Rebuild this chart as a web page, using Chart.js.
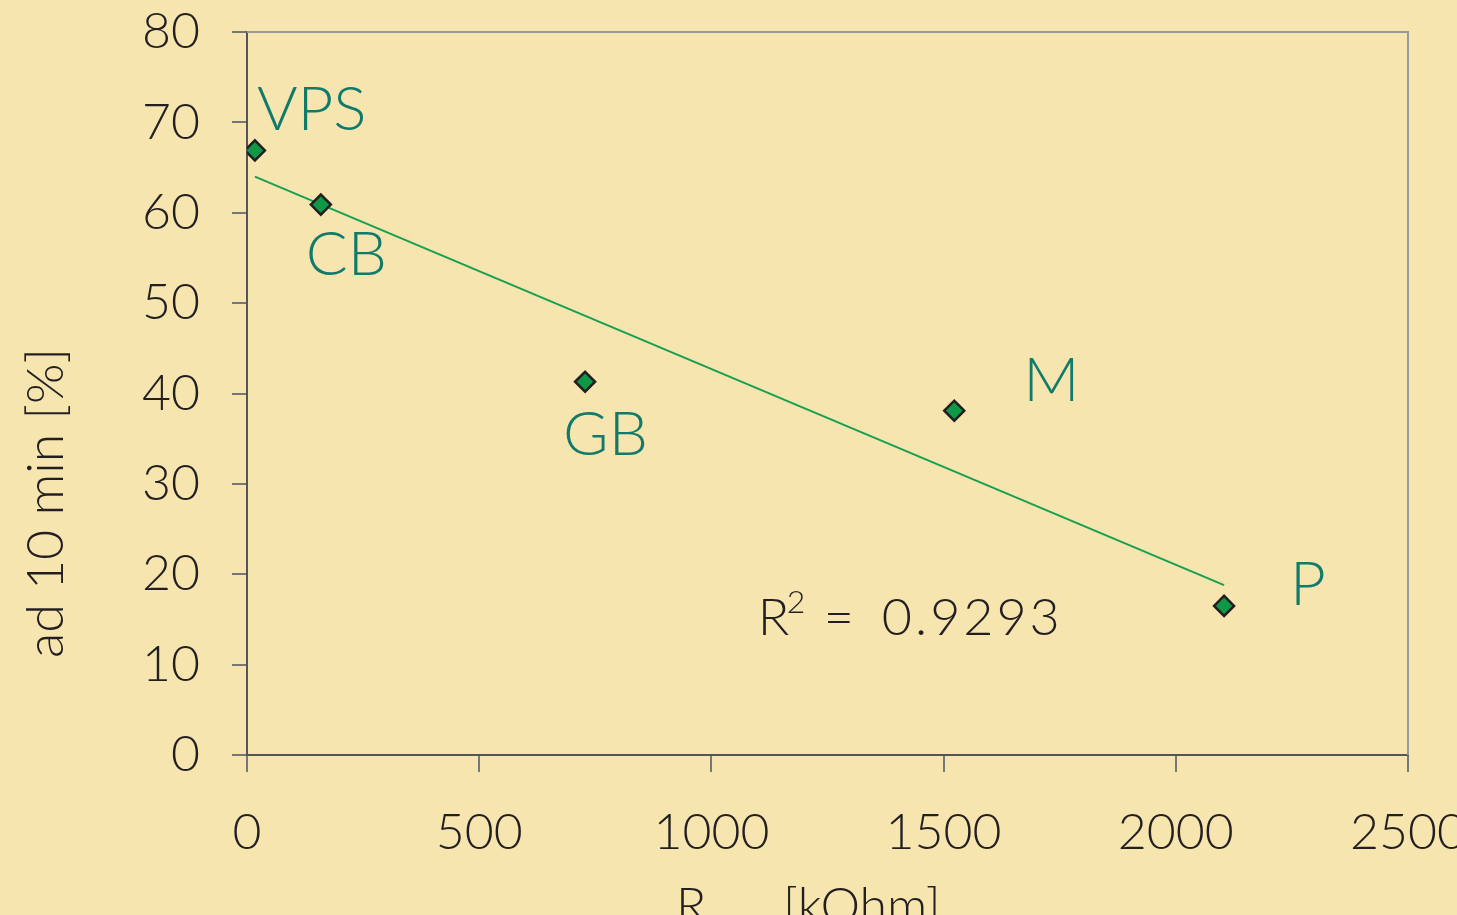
<!DOCTYPE html>
<html>
<head>
<meta charset="utf-8">
<script src="https://cdn.jsdelivr.net/npm/chart.js@4/dist/chart.umd.min.js"></script>
<style>
  html, body { margin: 0; padding: 0; background: #F6E5AF; overflow: hidden; }
  #wrap { width: 1457px; height: 915px; overflow: hidden; }
</style>
</head>
<body>
<div id="wrap"><canvas id="chart" width="1540" height="915"></canvas></div>
<script>
// Samples: resistance [kOhm] vs adhesion after 10 min [%]
const sampleNames = ["VPS", "CB", "GB", "M", "P"];
const resistance = [17, 159, 728, 1523, 2104];
const adhesion = [66.9, 60.9, 41.3, 38.1, 16.5];

// Linear trendline end points as drawn
const trendX = [17, 2104];
const trendY = [64.0, 18.8];
const rSquared = "0.9293";

const xTicks = [0, 500, 1000, 1500, 2000, 2500];
const yTicks = [0, 10, 20, 30, 40, 50, 60, 70, 80];

const FONT = "Lato, 'Open Sans', sans-serif";
const TEXT = "#231f20";
const TEAL = "#117a6a";

// label offsets from their point (px)
const labelOffsets = {
  VPS: [2, -20],
  CB: [-15, 70],
  GB: [-22, 73],
  M: [69, -10],
  P: [66, -1]
};

const extras = {
  id: "extras",
  beforeDraw(chart) {
    const ctx = chart.ctx;
    ctx.save();
    ctx.fillStyle = "#F6E5AF";
    ctx.fillRect(0, 0, chart.width, chart.height);
    ctx.restore();
  },
  afterDatasetsDraw(chart) {
    const ctx = chart.ctx;
    const a = chart.chartArea;
    const xs = chart.scales.x, ys = chart.scales.y;

    // top / right frame
    ctx.save();
    ctx.strokeStyle = "#9a9a9a";
    ctx.lineWidth = 2;
    ctx.beginPath();
    ctx.moveTo(a.left, a.top);
    ctx.lineTo(a.right, a.top);
    ctx.lineTo(a.right, a.bottom);
    ctx.stroke();

    // point labels
    ctx.fillStyle = TEAL;
    ctx.font = "300 62px " + FONT;
    ctx.textBaseline = "alphabetic";
    sampleNames.forEach((name, i) => {
      const px = xs.getPixelForValue(resistance[i]);
      const py = ys.getPixelForValue(adhesion[i]);
      const off = labelOffsets[name];
      ctx.fillText(name, px + off[0], py + off[1]);
    });

    // R^2 text
    ctx.fillStyle = TEXT;
    const rx = xs.getPixelForValue(1100);
    const ry = ys.getPixelForValue(13.3);
    ctx.font = "300 52px " + FONT;
    ctx.fillText("R", rx, ry);
    ctx.font = "300 32px " + FONT;
    ctx.fillText("2", rx + 29, ry - 22);
    ctx.font = "300 52px " + FONT;
    ctx.letterSpacing = "3px";
    ctx.fillText("=", rx + 66, ry);
    ctx.fillText(rSquared, rx + 124, ry);
    ctx.letterSpacing = "0px";

    // axis titles
    ctx.font = "300 52px " + FONT;
    ctx.textAlign = "center";
    ctx.save();
    ctx.translate(63, 503);
    ctx.rotate(-Math.PI / 2);
    ctx.fillText("ad 10 min [%]", 0, 0);
    ctx.restore();
    ctx.textAlign = "left";
    ctx.font = "300 50px " + FONT;
    ctx.fillText("R", 676, 923);
    ctx.fillText("[kOhm]", 783, 923);
    ctx.restore();
  }
};

new Chart(document.getElementById("chart").getContext("2d"), {
  type: "scatter",
  data: {
    datasets: [
      {
        label: "samples",
        data: resistance.map((x, i) => ({ x, y: adhesion[i] })),
        pointStyle: "rectRot",
        pointRadius: 10,
        pointBackgroundColor: "#0e9848",
        pointBorderColor: "#231f20",
        pointBorderWidth: 2.5,
        order: 1
      },
      {
        type: "line",
        label: "trend",
        data: trendX.map((x, i) => ({ x, y: trendY[i] })),
        borderColor: "#14a050",
        borderWidth: 2,
        pointRadius: 0,
        fill: false,
        order: 2
      }
    ]
  },
  options: {
    responsive: false,
    animation: false,
    layout: { padding: { top: 32, right: 132, left: 0, bottom: 0 } },
    plugins: {
      legend: { display: false },
      tooltip: { enabled: false }
    },
    scales: {
      x: {
        type: "linear",
        min: 0,
        max: 2500,
        afterBuildTicks: (s) => { s.ticks = xTicks.map(v => ({ value: v })); },
        afterFit: (s) => { s.height = 160; s.paddingLeft = 0; s.paddingRight = 0; },
        border: { display: true, color: "#555", width: 2 },
        grid: { drawOnChartArea: false, drawTicks: true, tickLength: 17, color: "#777", lineWidth: 2 },
        ticks: { padding: 31, color: TEXT, font: { family: FONT, size: 50, weight: 300 }, callback: (v) => String(v) }
      },
      y: {
        type: "linear",
        min: 0,
        max: 80,
        afterBuildTicks: (s) => { s.ticks = yTicks.map(v => ({ value: v })); },
        afterFit: (s) => { s.width = 247; s.paddingTop = 0; s.paddingBottom = 0; },
        border: { display: true, color: "#555", width: 2 },
        grid: { drawOnChartArea: false, drawTicks: true, tickLength: 15, color: "#777", lineWidth: 2 },
        ticks: { padding: 32, color: TEXT, font: { family: FONT, size: 50, weight: 300 }, callback: (v) => String(v) }
      }
    }
  },
  plugins: [extras]
});
</script>
</body>
</html>
